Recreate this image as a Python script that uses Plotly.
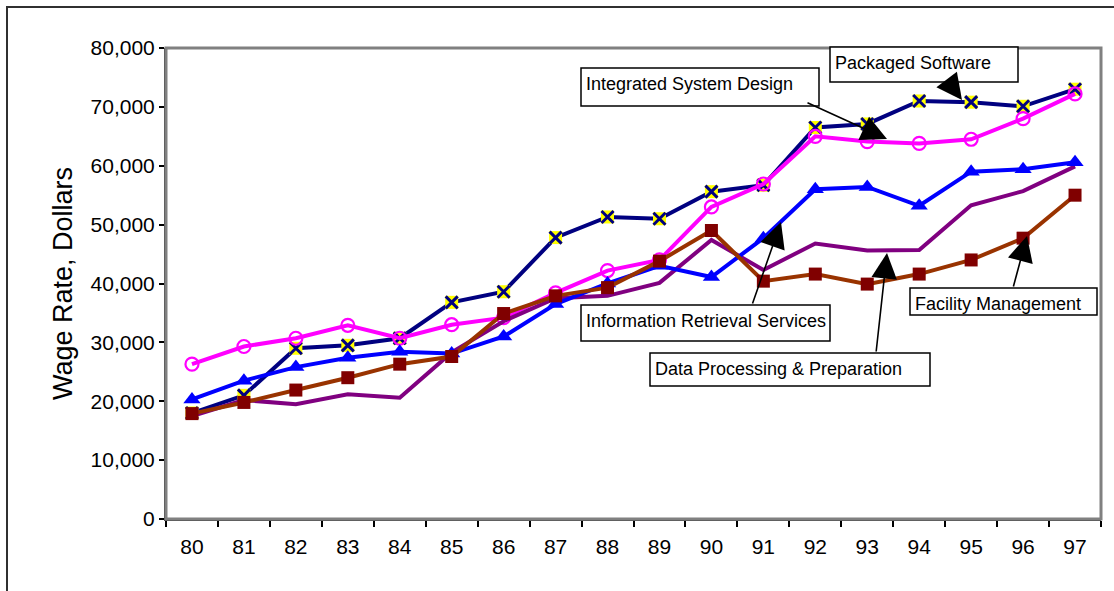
import plotly.graph_objects as go

# Years (two-digit labels) on the category axis
years = ["80", "81", "82", "83", "84", "85", "86", "87", "88", "89",
         "90", "91", "92", "93", "94", "95", "96", "97"]

# Average annual wage, dollars, by industry segment
packaged_software = [18000, 21000, 29000, 29500, 30700, 36800, 38600, 47800, 51300,
                     51000, 55600, 56700, 66500, 67100, 71000, 70800, 70100, 73000]
integrated_design = [26300, 29300, 30700, 32900, 30700, 33000, 34200, 38400, 42200,
                     44000, 53000, 56900, 65000, 64100, 63800, 64500, 68000, 72200]
info_retrieval = [20300, 23500, 25800, 27400, 28400, 28100, 31000, 36500, 40000,
                  43000, 41100, 47700, 56000, 56400, 53200, 59000, 59400, 60600]
data_processing = [17500, 20200, 19500, 21200, 20600, 28300, 33600, 37500, 37900,
                   40100, 47400, 42300, 46800, 45600, 45700, 53300, 55700, 59900]
facility_mgmt = [17900, 19800, 21900, 24000, 26300, 27600, 34900, 37900, 39300,
                 43800, 49000, 40400, 41600, 39900, 41600, 44000, 47700, 55000]

FONT = "Liberation Sans, Arial, sans-serif"
W, H = 1114, 591
L, R, T, B = 166, 13, 48, 72          # plot-area margins in pixels
PW, PH = W - L - R, H - T - B


def px(x):
    return (x - L) / PW


def py(y):
    return (H - B - y) / PH


fig = go.Figure()

# Packaged Software: navy line, yellow square with navy cross
fig.add_trace(go.Scatter(x=years, y=packaged_software, mode="lines+markers",
                         line=dict(color="#000080", width=4),
                         marker=dict(symbol="square", size=13, color="#FFFF00",
                                     line=dict(width=0)),
                         name="Packaged Software"))
fig.add_trace(go.Scatter(x=years, y=packaged_software, mode="markers",
                         marker=dict(symbol="x-thin", size=12,
                                     line=dict(color="#000080", width=3)),
                         showlegend=False, hoverinfo="skip"))
# Integrated System Design: magenta, hollow circles
fig.add_trace(go.Scatter(x=years, y=integrated_design, mode="lines+markers",
                         line=dict(color="#FF00FF", width=4),
                         marker=dict(symbol="circle-open", size=13,
                                     line=dict(color="#FF00FF", width=2.2)),
                         name="Integrated System Design"))
# Data Processing & Preparation: purple, no markers
fig.add_trace(go.Scatter(x=years, y=data_processing, mode="lines",
                         line=dict(color="#800080", width=4),
                         name="Data Processing & Preparation"))
# Information Retrieval Services: blue triangles
fig.add_trace(go.Scatter(x=years, y=info_retrieval, mode="lines+markers",
                         line=dict(color="#0000FF", width=4),
                         marker=dict(symbol="triangle-up", size=15, color="#0000FF"),
                         name="Information Retrieval Services"))
# Facility Management: brown line, dark red squares
fig.add_trace(go.Scatter(x=years, y=facility_mgmt, mode="lines+markers",
                         line=dict(color="#993300", width=4),
                         marker=dict(symbol="square", size=13, color="#800000"),
                         name="Facility Management"))

shapes = [
    # plot-area border
    dict(type="rect", xref="paper", yref="paper", x0=0, x1=1, y0=0, y1=1,
         line=dict(color="#808080", width=3), layer="above"),
    # outer chart frame
    dict(type="rect", xref="paper", yref="paper", x0=px(7), x1=px(1125),
         y0=py(605), y1=py(7), line=dict(color="#303030", width=2), layer="below"),
]

# callout boxes: (text, left, top, right, bottom, tail x, tail y, tip x, tip y)
callouts = [
    ("Packaged Software", 830, 47, 1018, 82, 947, 80, 962, 100),
    ("Integrated System Design", 581, 68, 819, 106, 806, 102, 887, 139),
    ("Information Retrieval Services", 581, 305, 830, 341, 752, 305, 781, 222),
    ("Data Processing & Preparation", 650, 353, 930, 386, 876, 353, 887, 253),
    ("Facility Management", 910, 288, 1097, 315, 1013, 288, 1027, 236),
]

annotations = []
for text, x0, y0, x1, y1, tx, ty, hx, hy in callouts:
    annotations.append(dict(xref="paper", yref="paper", x=px(hx), y=py(hy),
                            ax=tx - hx, ay=ty - hy, text="", showarrow=True,
                            arrowhead=2, arrowsize=3.2, arrowwidth=1.6,
                            arrowcolor="black"))
    shapes.append(dict(type="rect", xref="paper", yref="paper",
                       x0=px(x0), x1=px(x1), y0=py(y1), y1=py(y0),
                       fillcolor="white", line=dict(color="black", width=1.5),
                       layer="above"))
    annotations.append(dict(xref="paper", yref="paper", x=px(x0 + 3),
                            y=py(y0 + 16), xanchor="left", yanchor="middle",
                            text=text, showarrow=False,
                            font=dict(family=FONT, size=18, color="black")))

fig.update_layout(
    width=W, height=H,
    margin=dict(l=L, r=R, t=T, b=B),
    paper_bgcolor="white", plot_bgcolor="white",
    showlegend=False,
    font=dict(family=FONT, color="black"),
    shapes=shapes,
    annotations=annotations,
    xaxis=dict(type="category", tickson="boundaries", ticks="outside",
               ticklen=6, tickwidth=1.5, tickcolor="black",
               showline=True, linecolor="#404040", linewidth=2,
               showgrid=False, zeroline=False,
               tickfont=dict(family=FONT, size=21),
               ticklabelstandoff=8, range=[-0.5, 17.5]),
    yaxis=dict(range=[0, 80000], dtick=10000, tickformat=",",
               ticks="outside", ticklen=5, tickwidth=1.5, tickcolor="black",
               showline=True, linecolor="#404040", linewidth=2,
               showgrid=False, zeroline=False,
               tickfont=dict(family=FONT, size=21),
               title=dict(text="Wage Rate, Dollars", standoff=10,
                          font=dict(family=FONT, size=27))),
)

fig.write_html("out.html")
